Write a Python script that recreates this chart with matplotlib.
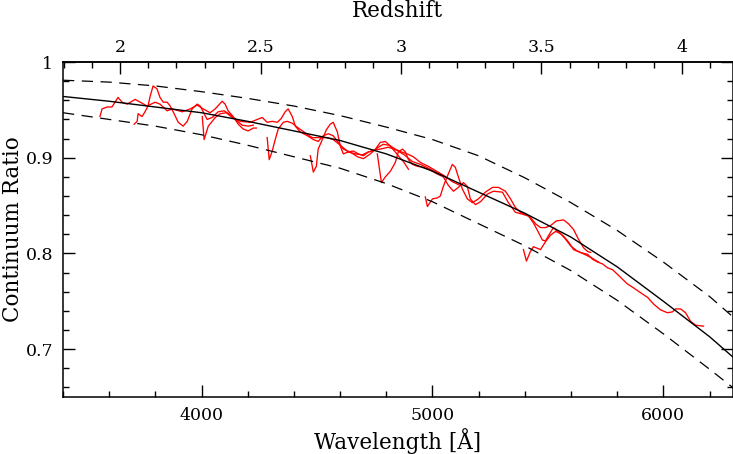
import numpy as np
import matplotlib
matplotlib.use("Agg")
import matplotlib.pyplot as plt
from matplotlib.ticker import MultipleLocator, FixedLocator, FixedFormatter

# ============ Data ============
# mean continuum ratio (solid) and the +/- envelope (dashed)
fit_wave = [3400, 3600, 3800, 4000, 4200, 4400, 4600, 4800, 5000,
            5200, 5400, 5600, 5800, 6000, 6200, 6300]
fit_ratio = [0.964, 0.959, 0.953, 0.947, 0.938, 0.928, 0.918, 0.904, 0.886,
             0.864, 0.842, 0.817, 0.786, 0.750, 0.713, 0.692]
upper_ratio = [0.981, 0.979, 0.975, 0.969, 0.962, 0.954, 0.944, 0.932, 0.919,
               0.902, 0.879, 0.853, 0.824, 0.791, 0.755, 0.734]
lower_ratio = [0.947, 0.940, 0.933, 0.924, 0.913, 0.901, 0.889, 0.873, 0.854,
               0.831, 0.808, 0.782, 0.751, 0.716, 0.679, 0.660]

# measured continuum ratio, one piece per redshift bin
seg1_wave = [3560, 3569, 3591, 3612, 3625, 3638, 3656, 3677, 3699, 3712, 3742,
             3764, 3799, 3820, 3851, 3873, 3916, 3951, 3981, 4007, 4037, 4059,
             4089, 4102, 4115, 4137, 4159, 4180, 4202, 4224, 4237]
seg1_ratio = [0.943, 0.951, 0.953, 0.953, 0.958, 0.963, 0.958, 0.956, 0.959,
              0.961, 0.957, 0.954, 0.958, 0.956, 0.949, 0.951, 0.948, 0.951,
              0.955, 0.951, 0.947, 0.951, 0.959, 0.956, 0.949, 0.943, 0.935,
              0.930, 0.928, 0.931, 0.931]

seg2_wave = [3708, 3721, 3725, 3742, 3755, 3768, 3777, 3790, 3807, 3820, 3834,
             3851, 3864, 3877, 3899, 3920, 3938, 3959, 3981, 3994, 4007, 4024,
             4046, 4072, 4098, 4124, 4150, 4176, 4202, 4224]
seg2_ratio = [0.935, 0.938, 0.946, 0.943, 0.948, 0.954, 0.964, 0.975, 0.972,
              0.963, 0.958, 0.958, 0.954, 0.948, 0.937, 0.933, 0.938, 0.951,
              0.956, 0.954, 0.948, 0.940, 0.942, 0.948, 0.949, 0.945, 0.939,
              0.934, 0.933, 0.934]

seg3_wave = [4003, 4011, 4029, 4046, 4059, 4081, 4107, 4133, 4167, 4211, 4241,
             4263, 4284, 4306, 4328, 4345, 4362, 4375, 4393, 4406, 4427, 4458,
             4484, 4505, 4527, 4549, 4570, 4592, 4614, 4644, 4675, 4701, 4731,
             4753, 4774, 4796, 4818, 4839, 4852, 4874, 4896]
seg3_ratio = [0.943, 0.919, 0.933, 0.938, 0.942, 0.946, 0.947, 0.942, 0.938,
              0.937, 0.940, 0.942, 0.937, 0.938, 0.937, 0.941, 0.948, 0.951,
              0.943, 0.933, 0.927, 0.923, 0.919, 0.917, 0.923, 0.925, 0.923,
              0.916, 0.909, 0.906, 0.901, 0.899, 0.904, 0.909, 0.916, 0.917,
              0.912, 0.906, 0.902, 0.896, 0.888]

seg4_wave = [4284, 4293, 4306, 4319, 4332, 4354, 4371, 4393, 4419, 4449, 4479,
             4514, 4544, 4570, 4601, 4635, 4666, 4696, 4722, 4748, 4774, 4809,
             4844, 4878, 4913, 4948, 4991, 5034]
seg4_ratio = [0.921, 0.898, 0.907, 0.919, 0.930, 0.937, 0.938, 0.936, 0.931,
              0.926, 0.921, 0.921, 0.921, 0.919, 0.913, 0.906, 0.904, 0.903,
              0.906, 0.908, 0.909, 0.911, 0.908, 0.903, 0.896, 0.893, 0.888,
              0.882]

seg5_wave = [4471, 4484, 4497, 4505, 4523, 4540, 4557, 4570, 4588, 4601, 4614,
             4635, 4657, 4679, 4701, 4722, 4744, 4766, 4787, 4813, 4839, 4865,
             4891, 4917, 4948, 4982, 5017, 5052, 5086, 5121]
seg5_ratio = [0.902, 0.885, 0.891, 0.909, 0.919, 0.929, 0.935, 0.937, 0.927,
              0.912, 0.904, 0.906, 0.907, 0.904, 0.902, 0.906, 0.907, 0.911,
              0.914, 0.913, 0.909, 0.906, 0.904, 0.901, 0.895, 0.891, 0.886,
              0.881, 0.875, 0.871]

seg6_wave = [4761, 4779, 4796, 4818, 4839, 4852, 4870, 4883, 4896, 4913, 4935,
             4961, 4991, 5021, 5047, 5069, 5091, 5112, 5134, 5151, 5164, 5186,
             5208, 5238, 5264, 5303, 5329, 5359, 5390, 5416, 5437, 5459, 5476,
             5489, 5511, 5524, 5546, 5568, 5589, 5611, 5641, 5672, 5693, 5715,
             5737, 5758, 5780, 5802, 5823, 5845, 5871, 5901, 5932, 5958, 5988,
             6018, 6040, 6053, 6075, 6096, 6118, 6140, 6174]
seg6_ratio = [0.904, 0.874, 0.880, 0.886, 0.895, 0.906, 0.909, 0.906, 0.898,
              0.893, 0.891, 0.890, 0.887, 0.883, 0.880, 0.871, 0.865, 0.869,
              0.874, 0.870, 0.857, 0.851, 0.854, 0.862, 0.865, 0.864, 0.853,
              0.843, 0.841, 0.839, 0.832, 0.822, 0.814, 0.813, 0.822, 0.827,
              0.822, 0.818, 0.812, 0.804, 0.801, 0.799, 0.794, 0.791, 0.789,
              0.785, 0.783, 0.778, 0.773, 0.768, 0.764, 0.759, 0.754, 0.747,
              0.741, 0.738, 0.739, 0.742, 0.742, 0.738, 0.729, 0.725, 0.724]

seg7_wave = [4969, 4978, 5000, 5021, 5034, 5047, 5065, 5086, 5099, 5112, 5130,
             5151, 5173, 5199, 5229, 5260, 5286, 5316, 5338, 5359, 5381, 5403,
             5424, 5446, 5468, 5489, 5511, 5537, 5568, 5589, 5611, 5632, 5654,
             5672, 5685]
seg7_ratio = [0.859, 0.849, 0.857, 0.858, 0.860, 0.870, 0.881, 0.893, 0.890,
              0.880, 0.867, 0.857, 0.853, 0.857, 0.864, 0.869, 0.869, 0.865,
              0.857, 0.848, 0.843, 0.841, 0.838, 0.831, 0.827, 0.827, 0.829,
              0.834, 0.835, 0.831, 0.825, 0.815, 0.806, 0.802, 0.801]

seg8_wave = [5394, 5407, 5424, 5437, 5468, 5489, 5511, 5533, 5554, 5576, 5598,
             5624, 5650, 5685, 5719]
seg8_ratio = [0.804, 0.792, 0.802, 0.807, 0.804, 0.812, 0.819, 0.823, 0.821,
              0.815, 0.808, 0.803, 0.800, 0.796, 0.791]

segments = [(seg1_wave, seg1_ratio), (seg2_wave, seg2_ratio),
            (seg3_wave, seg3_ratio), (seg4_wave, seg4_ratio),
            (seg5_wave, seg5_ratio), (seg6_wave, seg6_ratio),
            (seg7_wave, seg7_ratio), (seg8_wave, seg8_ratio)]

z_ticks = [2, 2.5, 3, 3.5, 4]
LYA = 1216.0

# ============ Global Font ============
plt.rcParams['font.family'] = ['DejaVu Serif']
plt.rcParams['font.size'] = 12
plt.rcParams['axes.linewidth'] = 1.1

fig = plt.figure(figsize=(7.33, 4.54), dpi=100)
ax = fig.add_axes([0.086, 0.1256, 0.9135, 0.7378])

for w, r in segments:
    ax.plot(w, r, color='#ff0000', lw=0.95)

ax.plot(fit_wave, upper_ratio, color='black', lw=0.9, dashes=(9, 6))
ax.plot(fit_wave, lower_ratio, color='black', lw=0.9, dashes=(9, 6))
ax.plot(fit_wave, fit_ratio, color='black', lw=1.0)

ax.set_xlim(3400, 6300)
ax.set_ylim(0.65, 1.0)

# ============ Ticks ============
ax.xaxis.set_major_locator(FixedLocator([4000, 5000, 6000]))
ax.xaxis.set_minor_locator(MultipleLocator(200))
ax.yaxis.set_major_locator(FixedLocator([0.7, 0.8, 0.9, 1.0]))
ax.yaxis.set_major_formatter(FixedFormatter(['0.7', '0.8', '0.9', '1']))
ax.yaxis.set_minor_locator(MultipleLocator(0.02))
ax.tick_params(which='both', direction='in', top=False, right=True,
               labelsize=12.5, width=1.0)
ax.tick_params(which='major', length=8.5, pad=7)
ax.tick_params(which='minor', length=4)

ax.set_xlabel('Wavelength [Å]', fontsize=15.5, labelpad=3)
ax.set_ylabel('Continuum Ratio', fontsize=15.5)
ax.yaxis.set_label_coords(-0.058, 0.5)

# redshift of Lyman alpha on the top axis
top = ax.secondary_xaxis('top', functions=(lambda w: w / LYA - 1,
                                           lambda z: LYA * (1 + z)))
top.xaxis.set_major_locator(FixedLocator(z_ticks))
top.xaxis.set_major_formatter(FixedFormatter(['2', '2.5', '3', '3.5', '4']))
top.xaxis.set_minor_locator(MultipleLocator(0.1))
top.tick_params(which='both', direction='in', labelsize=12.5, width=1.0)
top.tick_params(which='major', length=8.5, pad=4)
top.tick_params(which='minor', length=4)
top.set_xlabel('Redshift', fontsize=15.5, labelpad=16)

fig.savefig('out.png', dpi=100)
